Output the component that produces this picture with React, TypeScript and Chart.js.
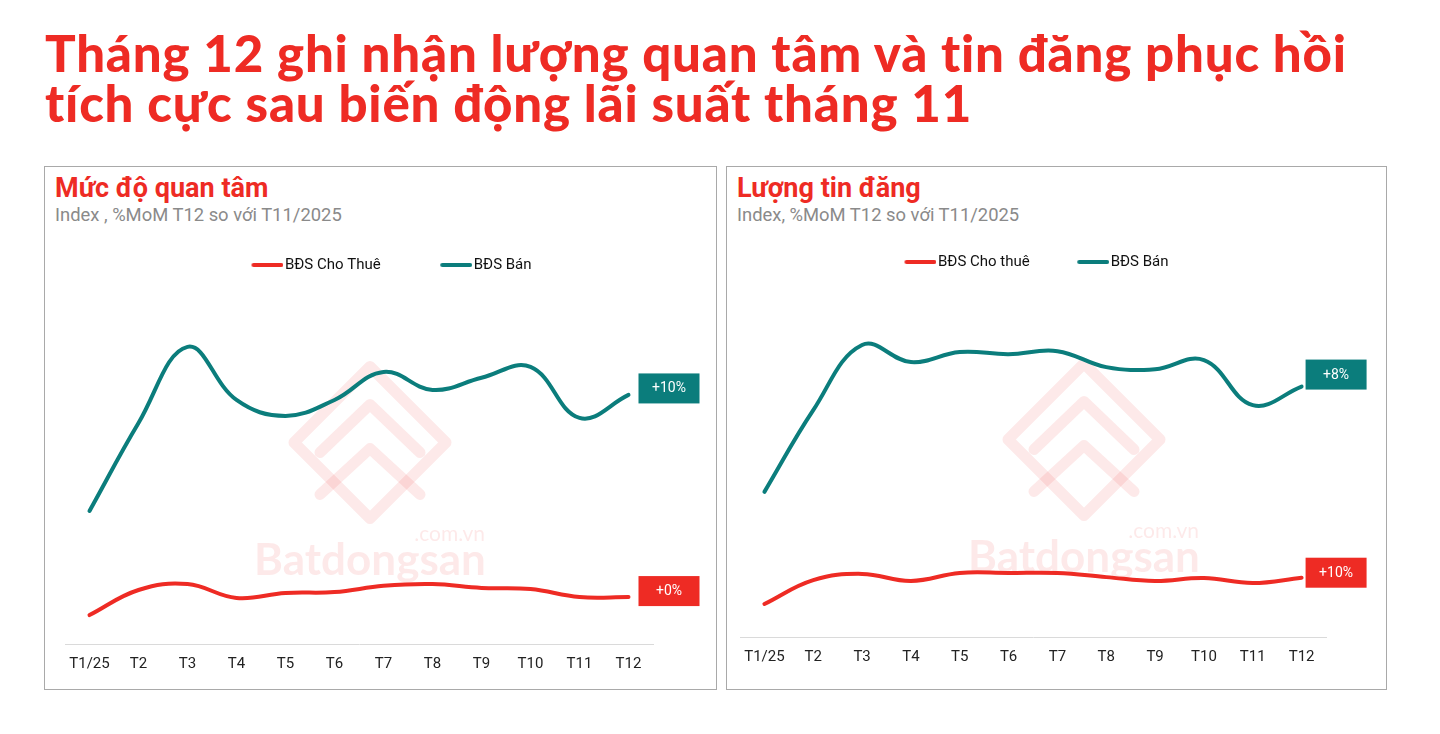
import React, { useEffect, useRef } from 'react';
import { Chart, registerables } from 'chart.js';

Chart.register(...registerables);

const months = ['T1/25', 'T2', 'T3', 'T4', 'T5', 'T6', 'T7', 'T8', 'T9', 'T10', 'T11', 'T12'];

// Mức độ quan tâm (index)
const interestRent = [9.8, 18.3, 20.3, 15.6, 17.3, 17.6, 19.7, 20.3, 19.0, 18.6, 15.9, 15.9];
const interestSale = [45.1, 74.9, 100.7, 82.7, 77.3, 82.7, 92.2, 86.1, 90.2, 93.9, 76.6, 84.4];
const interestBadges = ['+0%', '+10%'];

// Lượng tin đăng (index)
const listingRent = [11.2, 19.3, 21.4, 19.0, 21.7, 21.7, 21.7, 20.3, 19.0, 20.0, 18.3, 20.1];
const listingSale = [49.2, 76.9, 99.0, 93.2, 96.6, 95.9, 96.9, 91.5, 90.8, 93.9, 78.6, 84.9];
const listingBadges = ['+10%', '+8%'];

const RED = '#ee2b24';
const TEAL = '#0b7d7c';

function legendLine(color: string) {
  const c = document.createElement('canvas');
  c.width = 44;
  c.height = 4;
  const g = c.getContext('2d')!;
  g.strokeStyle = color;
  g.lineWidth = 4;
  g.lineCap = 'round';
  g.beginPath();
  g.moveTo(14, 2);
  g.lineTo(42, 2);
  g.stroke();
  return c;
}

const badgePlugin = {
  id: 'endBadges',
  afterDatasetsDraw(chart: any, _args: any, opts: any) {
    const ctx = chart.ctx;
    chart.data.datasets.forEach((ds: any, i: number) => {
      const meta = chart.getDatasetMeta(i);
      const pt = meta.data[meta.data.length - 1];
      if (!pt) return;
      const x = pt.x + opts.dx;
      const y = pt.y + opts.dy[i];
      ctx.save();
      ctx.fillStyle = ds.borderColor;
      ctx.fillRect(x, y - 15, 61, 30);
      ctx.fillStyle = '#ffffff';
      ctx.font = '14px Roboto';
      ctx.textAlign = 'center';
      ctx.textBaseline = 'middle';
      ctx.fillText(opts.labels[i], x + 30.5, y + 0.5);
      ctx.restore();
    });
  },
};

const watermarkPlugin = {
  id: 'wm',
  beforeDatasetsDraw(chart: any, _args: any, opts: any) {
    const ctx = chart.ctx;
    const { left, top } = chart.chartArea;
    const cx = left + opts.dx;
    const cy = top + 160;
    ctx.save();
    ctx.strokeStyle = 'rgba(238,43,36,0.10)';
    ctx.fillStyle = 'rgba(238,43,36,0.10)';
    ctx.lineWidth = 11;
    ctx.lineJoin = 'round';
    ctx.lineCap = 'round';
    ctx.beginPath();
    ctx.moveTo(cx, cy - 76);
    ctx.lineTo(cx + 76, cy);
    ctx.lineTo(cx, cy + 76);
    ctx.lineTo(cx - 76, cy);
    ctx.closePath();
    ctx.stroke();
    ctx.beginPath();
    ctx.moveTo(cx - 50, cy + 10);
    ctx.lineTo(cx, cy - 38);
    ctx.lineTo(cx + 50, cy + 10);
    ctx.stroke();
    ctx.beginPath();
    ctx.moveTo(cx - 50, cy + 52);
    ctx.lineTo(cx, cy + 6);
    ctx.lineTo(cx + 50, cy + 52);
    ctx.stroke();
    ctx.font = 'bold 44px Lato';
    ctx.textAlign = 'center';
    ctx.textBaseline = 'alphabetic';
    ctx.fillText('Batdongsan', cx, top + 292);
    ctx.font = '21px Lato';
    ctx.textAlign = 'right';
    ctx.fillText('.com.vn', cx + 115, top + 258);
    ctx.restore();
  },
};

type ChartProps = {
  left: number;
  top: number;
  width: number;
  height: number;
  wl: number;
  wr: number;
  rent: number[];
  sale: number[];
  rentLabel: string;
  saleLabel: string;
  badges: string[];
  yMax: number;
  legendPad: number;
  badgeDx: number;
  badgeDy: number[];
  wmDx: number;
};

function LineChart(p: ChartProps) {
  const ref = useRef<HTMLCanvasElement>(null);
  useEffect(() => {
    const chart = new Chart(ref.current!, {
      type: 'line',
      data: {
        labels: months,
        datasets: [
          {
            label: p.rentLabel,
            data: p.rent,
            borderColor: RED,
            backgroundColor: RED,
            borderWidth: 4,
            tension: 0.4,
            pointRadius: 0,
            pointHoverRadius: 0,
            pointStyle: legendLine(RED) as any,
            borderCapStyle: 'round',
          },
          {
            label: p.saleLabel,
            data: p.sale,
            borderColor: TEAL,
            backgroundColor: TEAL,
            borderWidth: 4,
            tension: 0.4,
            pointRadius: 0,
            pointHoverRadius: 0,
            pointStyle: legendLine(TEAL) as any,
            borderCapStyle: 'round',
          },
        ],
      },
      options: {
        responsive: false,
        maintainAspectRatio: false,
        animation: false,
        devicePixelRatio: 1,
        layout: { padding: 0 },
        plugins: {
          legend: {
            display: true,
            position: 'top',
            align: 'center',
            labels: {
              usePointStyle: true,
              pointStyleWidth: 32,
              padding: p.legendPad,
              color: '#111111',
              font: { family: 'Roboto', size: 15 },
            },
          },
          tooltip: { enabled: false },
          endBadges: { labels: p.badges, dx: p.badgeDx, dy: p.badgeDy },
          wm: { dx: p.wmDx },
        } as any,
        scales: {
          x: {
            offset: true,
            grid: { display: false, drawTicks: false },
            border: { display: true, color: '#dadada', width: 1 },
            ticks: {
              padding: 11,
              color: '#222222',
              font: { family: 'Roboto', size: 15 },
              autoSkip: false,
              maxRotation: 0,
            },
          },
          y: {
            min: 0,
            max: p.yMax,
            display: true,
            grid: { display: false, drawTicks: false },
            border: { display: false },
            ticks: { display: false },
            afterFit: (s: any) => {
              s.width = p.wl;
            },
          },
          yR: {
            position: 'right',
            display: true,
            grid: { display: false, drawTicks: false },
            border: { display: false },
            ticks: { display: false },
            afterFit: (s: any) => {
              s.width = p.wr;
            },
          },
        } as any,
      },
      plugins: [watermarkPlugin, badgePlugin],
    });
    return () => chart.destroy();
  }, []);
  return (
    <canvas
      ref={ref}
      width={p.width}
      height={p.height}
      style={{ position: 'absolute', left: p.left, top: p.top, width: p.width, height: p.height }}
    />
  );
}

function Panel(props: { left: number; width: number; title: string; subtitle: string }) {
  return (
    <>
      <div
        style={{
          position: 'absolute',
          left: props.left,
          top: 166,
          width: props.width,
          height: 524,
          border: '1px solid #a9a9a9',
          boxSizing: 'border-box',
        }}
      />
      <div
        style={{
          position: 'absolute',
          left: props.left + 11,
          top: 173,
          fontFamily: 'Roboto',
          fontWeight: 700,
          fontSize: 27,
          lineHeight: '30px',
          color: RED,
          whiteSpace: 'nowrap',
        }}
      >
        {props.title}
      </div>
      <div
        style={{
          position: 'absolute',
          left: props.left + 11,
          top: 205,
          fontFamily: 'Roboto',
          fontSize: 18.4,
          lineHeight: '20px',
          color: '#8a8a8a',
          whiteSpace: 'nowrap',
        }}
      >
        {props.subtitle}
      </div>
    </>
  );
}

export default function App() {
  return (
    <div
      style={{
        position: 'absolute',
        left: 0,
        top: 0,
        width: 1440,
        height: 734,
        background: '#ffffff',
        overflow: 'hidden',
      }}
    >
      <Panel left={44} width={673} title="Mức độ quan tâm" subtitle="Index , %MoM T12 so với T11/2025" />
      <Panel left={726} width={661} title="Lượng tin đăng" subtitle="Index, %MoM T12 so với T11/2025" />

      <LineChart
        left={45}
        top={204}
        width={687}
        height={480}
        wl={20}
        wr={79}
        rent={interestRent}
        sale={interestSale}
        rentLabel="BĐS Cho Thuê"
        saleLabel="BĐS Bán"
        badges={interestBadges}
        yMax={122.5}
        legendPad={53.5}
        badgeDx={10}
        badgeDy={[-6, -6.5]}
        wmDx={305}
      />
      <LineChart
        left={697}
        top={213}
        width={673}
        height={464}
        wl={43}
        wr={44}
        rent={listingRent}
        sale={listingSale}
        rentLabel="BĐS Cho thuê"
        saleLabel="BĐS Bán"
        badges={listingBadges}
        yMax={121.2}
        legendPad={41.5}
        badgeDx={4}
        badgeDy={[-5, -12]}
        wmDx={344}
      />

      <div
        style={{
          position: 'absolute',
          left: 45,
          top: 28,
          fontFamily: 'Lato',
          fontWeight: 900,
          fontSize: 51,
          letterSpacing: '0.8px',
          lineHeight: '50px',
          color: RED,
          whiteSpace: 'nowrap',
        }}
      >
        Tháng 12 ghi nhận lượng quan tâm và tin đăng phục hồi
        <br />
        tích cực sau biến động lãi suất tháng 11
      </div>
    </div>
  );
}
